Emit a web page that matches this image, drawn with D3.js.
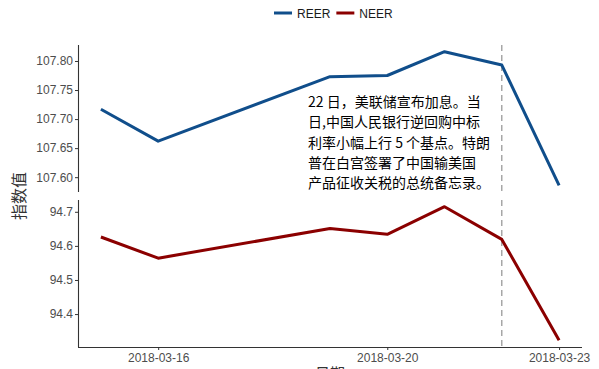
<!DOCTYPE html>
<html>
<head>
<meta charset="utf-8">
<script src="https://cdn.jsdelivr.net/npm/d3@7"></script>
<style>
  body { margin: 0; background: #fff; }
  svg { display: block; }
</style>
</head>
<body>
<div id="chart"></div>
<script>
var dates = ["2018-03-15", "2018-03-16", "2018-03-19", "2018-03-20", "2018-03-21", "2018-03-22", "2018-03-23"];
var reer = [107.717, 107.662, 107.773, 107.775, 107.816, 107.793, 107.586];
var neer = [94.626, 94.564, 94.651, 94.634, 94.715, 94.619, 94.323];
var xTicks = ["2018-03-16", "2018-03-20", "2018-03-23"];
var reerTicks = [107.60, 107.65, 107.70, 107.75, 107.80];
var neerTicks = [94.4, 94.5, 94.6, 94.7];
var eventDate = "2018-03-22";
var note = ["22 日，美联储宣布加息。当", "日,中国人民银行逆回购中标", "利率小幅上行 5 个基点。特朗", "普在白宫签署了中国输美国", "产品征收关税的总统备忘录。"];

var width = 599, height = 369;
var left = 78, right = 582;
var panels = [
  {name: "REER", values: reer, ticks: reerTicks, fmt: d3.format(".2f"), color: "#104E8B", top: 45, bottom: 192},
  {name: "NEER", values: neer, ticks: neerTicks, fmt: d3.format(".1f"), color: "#8B0000", top: 200, bottom: 347}
];

var parse = d3.utcParse("%Y-%m-%d");
var data = dates.map(parse);

var svg = d3.select("#chart").append("svg")
  .attr("width", width)
  .attr("height", height);

// ggplot-like 5% expansion
function expand(ext) {
  var pad = (ext[1] - ext[0]) * 0.05;
  return [ext[0] - pad, ext[1] + pad];
}
var xExt = d3.extent(data, function (d) { return +d; });
var x = d3.scaleUtc().domain(expand(xExt)).range([left, right]);

var tickColor = "#4d4d4d", axisColor = "#333";
var font = "'Liberation Sans', Arial, sans-serif";

panels.forEach(function (p) {
  var y = d3.scaleLinear().domain(expand(d3.extent(p.values))).range([p.bottom, p.top]);

  var ax = svg.append("g")
    .attr("transform", "translate(" + left + ",0)")
    .call(d3.axisLeft(y).tickValues(p.ticks).tickFormat(p.fmt).tickSize(3).tickPadding(2));
  ax.select(".domain").attr("stroke", axisColor).attr("stroke-width", 1.1).attr("d", "M0.5," + p.top + "V" + p.bottom);
  ax.selectAll(".tick line").attr("stroke", axisColor);
  ax.selectAll(".tick text").attr("fill", tickColor).style("font-size", "12px").style("font-family", font);

  svg.append("line")
    .attr("x1", x(parse(eventDate))).attr("x2", x(parse(eventDate)))
    .attr("y1", p.top).attr("y2", p.bottom)
    .attr("stroke", "#888")
    .attr("stroke-width", 1.1)
    .attr("stroke-dasharray", "6,4");

  var line = d3.line()
    .x(function (d, i) { return x(data[i]); })
    .y(function (d) { return y(d); });

  svg.append("path")
    .datum(p.values)
    .attr("fill", "none")
    .attr("stroke", p.color)
    .attr("stroke-width", 3)
    .attr("stroke-linejoin", "round")
    .attr("d", line);
});

// x axis at bottom
var xa = svg.append("g")
  .attr("transform", "translate(0," + panels[1].bottom + ")")
  .call(d3.axisBottom(x).tickValues(xTicks.map(parse)).tickFormat(d3.utcFormat("%Y-%m-%d")).tickSize(3).tickPadding(3));
xa.select(".domain").attr("stroke", axisColor).attr("stroke-width", 1.1).attr("d", "M" + left + ",0.5H" + right);
xa.selectAll(".tick line").attr("stroke", axisColor);
xa.selectAll(".tick text").attr("fill", tickColor).style("font-size", "12px").style("font-family", font);

// axis titles
svg.append("text")
  .attr("transform", "translate(25,196) rotate(-90)")
  .attr("text-anchor", "middle")
  .attr("fill", "#333")
  .style("font-size", "16px")
  .style("font-family", "'Noto Sans CJK SC', sans-serif")
  .text("指数值");

svg.append("text")
  .attr("x", (left + right) / 2)
  .attr("y", 379)
  .attr("text-anchor", "middle")
  .attr("fill", "#333")
  .style("font-size", "15px")
  .style("font-family", "'Noto Sans CJK SC', sans-serif")
  .text("日期");

// annotation
svg.append("text")
  .attr("x", 308)
  .attr("y", 107)
  .attr("fill", "#000")
  .style("font-size", "14px")
  .style("font-family", "'Noto Sans CJK SC', sans-serif")
  .selectAll("tspan")
  .data(note)
  .enter().append("tspan")
  .attr("x", 308)
  .attr("dy", function (d, i) { return i === 0 ? 0 : 20.3; })
  .text(function (d) { return d; });

// legend
var legend = svg.append("g").attr("transform", "translate(274,13)");
var lx = 0;
panels.forEach(function (p) {
  var g = legend.append("g").attr("transform", "translate(" + lx + ",0)");
  g.append("line").attr("x1", 0).attr("x2", 18).attr("y1", 0).attr("y2", 0)
    .attr("stroke", p.color).attr("stroke-width", 3);
  var t = g.append("text").attr("x", 23).attr("y", 4.5)
    .attr("fill", "#1a1a1a")
    .style("font-size", "12px")
    .style("font-family", font)
    .text(p.name);
  lx += 23 + t.node().getComputedTextLength() + 6;
});
</script>
</body>
</html>
